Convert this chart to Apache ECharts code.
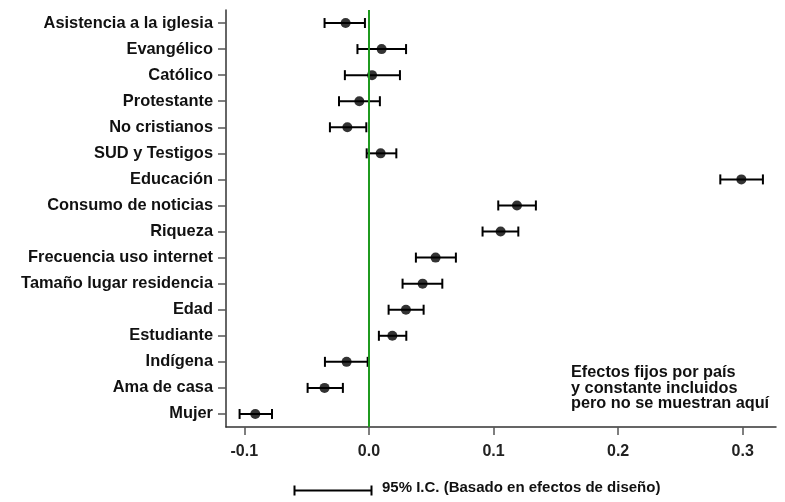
<!DOCTYPE html>
<html>
<head>
<meta charset="utf-8">
<script src="https://cdn.jsdelivr.net/npm/echarts@6/dist/echarts.min.js"></script>
<style>
html,body{margin:0;padding:0;background:#fff;}
#chart{width:785px;height:502px;}
</style>
</head>
<body>
<div id="chart"></div>
<script>
var categories = ["Asistencia a la iglesia","Evangélico","Católico","Protestante","No cristianos","SUD y Testigos","Educación","Consumo de noticias","Riqueza","Frecuencia uso internet","Tamaño lugar residencia","Edad","Estudiante","Indígena","Ama de casa","Mujer"];
var coef  = [-0.0187, 0.0102, 0.0025, -0.0077, -0.0173, 0.0094, 0.2989, 0.1188, 0.1057, 0.0535, 0.0431, 0.0297, 0.0188, -0.0179, -0.0356, -0.0912];
var lower = [-0.0356, -0.0092, -0.0193, -0.0240, -0.0313, -0.0018, 0.2820, 0.1038, 0.0912, 0.0377, 0.0270, 0.0158, 0.0080, -0.0353, -0.0492, -0.1038];
var upper = [-0.0032, 0.0298, 0.0249, 0.0088, -0.0021, 0.0220, 0.3162, 0.1340, 0.1199, 0.0698, 0.0589, 0.0439, 0.0300, -0.0010, -0.0209, -0.0778];
var xTicks = [-0.1, 0.0, 0.1, 0.2, 0.3];

var FONT = '"Liberation Sans", Arial, sans-serif';
var chart = echarts.init(document.getElementById('chart'));

var ciData = categories.map(function(c, i){ return [lower[i], upper[i], c]; });
var ptData = categories.map(function(c, i){ return [coef[i], c]; });

chart.setOption({
  animation: false,
  backgroundColor: '#fff',
  grid: {left: 226, right: 9, top: 10, bottom: 75, containLabel: false},
  xAxis: {
    type: 'value', min: -0.1147, max: 0.3267,
    axisLine: {show: true, onZero: false, lineStyle: {color: '#333', width: 1.5}},
    axisTick: {show: true, length: 8, lineStyle: {color: '#555', width: 1.5},
      customValues: xTicks},
    axisLabel: {color: '#222', fontSize: 16, fontWeight: 'bold', fontFamily: FONT, margin: 17,
      customValues: xTicks,
      formatter: function(v){ return v.toFixed(1); }},
    splitLine: {show: false}
  },
  yAxis: {
    type: 'category', data: categories, inverse: true,
    axisLine: {show: true, onZero: false, lineStyle: {color: '#333', width: 1.5}},
    axisTick: {show: true, alignWithLabel: true, length: 8, lineStyle: {color: '#555', width: 1.5}},
    axisLabel: {color: '#111', fontSize: 16.4, fontWeight: 'bold', fontFamily: FONT, margin: 13},
    splitLine: {show: false}
  },
  series: [
    {
      type: 'custom',
      data: ciData,
      encode: {x: [0, 1], y: 2},
      z: 3,
      renderItem: function(params, api){
        var p1 = api.coord([api.value(0), api.value(2)]);
        var p2 = api.coord([api.value(1), api.value(2)]);
        var h = 5;
        var st = {stroke: '#000', lineWidth: 2};
        return {type: 'group', children: [
          {type: 'line', shape: {x1: p1[0], y1: p1[1], x2: p2[0], y2: p2[1]}, style: st},
          {type: 'line', shape: {x1: p1[0], y1: p1[1]-h, x2: p1[0], y2: p1[1]+h}, style: st},
          {type: 'line', shape: {x1: p2[0], y1: p2[1]-h, x2: p2[0], y2: p2[1]+h}, style: st}
        ]};
      }
    },
    {
      type: 'scatter',
      data: ptData,
      symbol: 'circle', symbolSize: 10,
      itemStyle: {color: '#000'},
      z: 4,
      markLine: {
        silent: true, symbol: 'none', label: {show: false},
        lineStyle: {color: '#1f9a1f', width: 2, type: 'solid'},
        data: [{xAxis: 0}]
      }
    }
  ],
  graphic: [
    {type: 'text', left: 571, top: 365,
     style: {text: 'Efectos fijos por país\ny constante incluidos\npero no se muestran aquí',
       font: 'bold 16.3px ' + FONT, fill: '#111', lineHeight: 15.5}},
    {type: 'group', left: 292, top: 483, children: [
      {type: 'line', shape: {x1: 0, y1: 5, x2: 77, y2: 5}, style: {stroke: '#000', lineWidth: 2}},
      {type: 'line', shape: {x1: 0, y1: 0, x2: 0, y2: 10}, style: {stroke: '#000', lineWidth: 2}},
      {type: 'line', shape: {x1: 77, y1: 0, x2: 77, y2: 10}, style: {stroke: '#000', lineWidth: 2}}
    ]},
    {type: 'text', left: 382, top: 480,
     style: {text: '95% I.C. (Basado en efectos de diseño)', font: 'bold 15px ' + FONT, fill: '#111'}}
  ]
});
</script>
</body>
</html>
